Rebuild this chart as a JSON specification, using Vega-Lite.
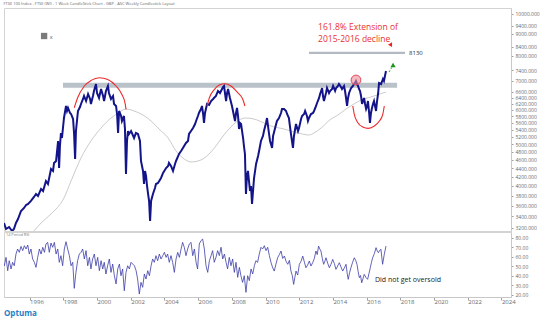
{
  "$schema": "https://vega.github.io/schema/vega-lite/v6.json",
  "padding": {"left": 3, "top": 1, "right": 0, "bottom": 0},
  "background": "white",
  "title": {"text": "FTSE 100 Index - FTSE (WI) - 1 Week CandleStick Chart - GBP - ASC Weekly Candlestick Layout", "anchor": "start", "frame": "bounds", "fontSize": 4, "font": "Open Sans", "fontWeight": "normal", "color": "#666666", "offset": 2},
  "config": {
    "view": {"stroke": "#d4d4d4"},
    "axis": {"labelFont": "Open Sans", "labelColor": "#6a6a6a", "domainColor": "#c8c8c8", "tickColor": "#a0a0a0", "grid": false, "title": null}
  },
  "datasets": {
    "price": [
      {"t":1994.48,"v":3282},{"t":1994.60,"v":3179},{"t":1994.78,"v":3213},{"t":1994.96,"v":3145},{"t":1995.07,"v":3179},{"t":1995.19,"v":3282},{"t":1995.31,"v":3353},{"t":1995.49,"v":3499},{"t":1995.67,"v":3556},{"t":1995.79,"v":3613},{"t":1995.91,"v":3632},{"t":1996.08,"v":3691},{"t":1996.26,"v":3771},{"t":1996.38,"v":3831},{"t":1996.50,"v":3791},{"t":1996.68,"v":3935},{"t":1996.80,"v":3893},{"t":1996.97,"v":4106},{"t":1997.09,"v":4040},{"t":1997.27,"v":4377},{"t":1997.39,"v":4331},{"t":1997.45,"v":4520},{"t":1997.57,"v":4568},{"t":1997.69,"v":5082},{"t":1997.75,"v":4400},{"t":1997.80,"v":4948},{"t":1997.86,"v":5303},{"t":1997.92,"v":5163},{"t":1998.04,"v":5744},{"t":1998.16,"v":6124},{"t":1998.22,"v":5963},{"t":1998.28,"v":6059},{"t":1998.40,"v":5899},{"t":1998.46,"v":5868},{"t":1998.58,"v":5713},{"t":1998.64,"v":5275},{"t":1998.70,"v":4617},{"t":1998.75,"v":5359},{"t":1998.87,"v":5963},{"t":1998.99,"v":6091},{"t":1999.05,"v":6190},{"t":1999.17,"v":6357},{"t":1999.23,"v":6459},{"t":1999.35,"v":6289},{"t":1999.47,"v":6529},{"t":1999.59,"v":6357},{"t":1999.64,"v":6190},{"t":1999.76,"v":6459},{"t":1999.82,"v":6634},{"t":1999.94,"v":6886},{"t":2000.00,"v":6564},{"t":2000.12,"v":6391},{"t":2000.24,"v":6705},{"t":2000.36,"v":6459},{"t":2000.42,"v":6289},{"t":2000.53,"v":6634},{"t":2000.65,"v":6813},{"t":2000.71,"v":6564},{"t":2000.83,"v":6357},{"t":2000.95,"v":6459},{"t":2001.01,"v":6190},{"t":2001.13,"v":6124},{"t":2001.19,"v":5868},{"t":2001.25,"v":5303},{"t":2001.31,"v":5963},{"t":2001.43,"v":5806},{"t":2001.48,"v":5653},{"t":2001.60,"v":5806},{"t":2001.66,"v":5417},{"t":2001.72,"v":4262},{"t":2001.78,"v":5082},{"t":2001.84,"v":5359},{"t":2001.90,"v":5275},{"t":2002.02,"v":5359},{"t":2002.20,"v":5163},{"t":2002.31,"v":5303},{"t":2002.43,"v":5275},{"t":2002.55,"v":5082},{"t":2002.61,"v":4568},{"t":2002.73,"v":4331},{"t":2002.79,"v":4040},{"t":2002.85,"v":4331},{"t":2002.91,"v":4216},{"t":2002.97,"v":3998},{"t":2003.03,"v":3831},{"t":2003.09,"v":3691},{"t":2003.15,"v":3317},{"t":2003.21,"v":3691},{"t":2003.32,"v":3831},{"t":2003.44,"v":3956},{"t":2003.50,"v":4040},{"t":2003.62,"v":4062},{"t":2003.80,"v":4172},{"t":2003.92,"v":4285},{"t":2004.10,"v":4400},{"t":2004.22,"v":4448},{"t":2004.27,"v":4520},{"t":2004.39,"v":4448},{"t":2004.51,"v":4331},{"t":2004.63,"v":4496},{"t":2004.69,"v":4568},{"t":2004.87,"v":4742},{"t":2004.99,"v":4818},{"t":2005.10,"v":4896},{"t":2005.28,"v":5028},{"t":2005.40,"v":5082},{"t":2005.46,"v":5275},{"t":2005.58,"v":5359},{"t":2005.70,"v":5446},{"t":2005.82,"v":5563},{"t":2005.88,"v":5653},{"t":2005.99,"v":5806},{"t":2006.05,"v":5899},{"t":2006.17,"v":6027},{"t":2006.23,"v":6124},{"t":2006.29,"v":5899},{"t":2006.35,"v":5593},{"t":2006.41,"v":5899},{"t":2006.53,"v":6190},{"t":2006.65,"v":6157},{"t":2006.77,"v":6289},{"t":2006.89,"v":6357},{"t":2006.94,"v":6391},{"t":2007.06,"v":6459},{"t":2007.18,"v":6634},{"t":2007.30,"v":6564},{"t":2007.42,"v":6705},{"t":2007.48,"v":6777},{"t":2007.54,"v":6813},{"t":2007.60,"v":6529},{"t":2007.66,"v":6289},{"t":2007.72,"v":6564},{"t":2007.78,"v":6705},{"t":2007.84,"v":6529},{"t":2007.89,"v":6391},{"t":2008.01,"v":6124},{"t":2008.07,"v":5963},{"t":2008.13,"v":5806},{"t":2008.19,"v":5653},{"t":2008.25,"v":5899},{"t":2008.31,"v":6059},{"t":2008.37,"v":5806},{"t":2008.43,"v":5417},{"t":2008.49,"v":5593},{"t":2008.55,"v":5563},{"t":2008.61,"v":5359},{"t":2008.67,"v":5163},{"t":2008.72,"v":4948},{"t":2008.78,"v":4742},{"t":2008.84,"v":3831},{"t":2008.90,"v":4216},{"t":2008.96,"v":4331},{"t":2009.02,"v":4106},{"t":2009.08,"v":3893},{"t":2009.14,"v":3998},{"t":2009.20,"v":3632},{"t":2009.26,"v":3893},{"t":2009.32,"v":4172},{"t":2009.44,"v":4496},{"t":2009.56,"v":4692},{"t":2009.62,"v":4818},{"t":2009.73,"v":5082},{"t":2009.85,"v":5219},{"t":2009.91,"v":5359},{"t":2010.03,"v":5593},{"t":2010.09,"v":5744},{"t":2010.15,"v":5504},{"t":2010.21,"v":5275},{"t":2010.27,"v":5082},{"t":2010.39,"v":4896},{"t":2010.45,"v":5219},{"t":2010.57,"v":5446},{"t":2010.68,"v":5653},{"t":2010.80,"v":5744},{"t":2010.92,"v":5899},{"t":2010.98,"v":6027},{"t":2011.10,"v":6027},{"t":2011.22,"v":5963},{"t":2011.28,"v":5868},{"t":2011.39,"v":5744},{"t":2011.45,"v":5504},{"t":2011.51,"v":5275},{"t":2011.57,"v":5082},{"t":2011.63,"v":4896},{"t":2011.69,"v":5219},{"t":2011.81,"v":5563},{"t":2011.93,"v":5359},{"t":2011.99,"v":5446},{"t":2012.11,"v":5713},{"t":2012.17,"v":5806},{"t":2012.29,"v":5868},{"t":2012.35,"v":5963},{"t":2012.46,"v":5806},{"t":2012.52,"v":5653},{"t":2012.58,"v":5744},{"t":2012.70,"v":5868},{"t":2012.82,"v":5899},{"t":2012.88,"v":5963},{"t":2013.00,"v":6124},{"t":2013.06,"v":6223},{"t":2013.18,"v":6391},{"t":2013.24,"v":6529},{"t":2013.30,"v":6634},{"t":2013.36,"v":6741},{"t":2013.41,"v":6459},{"t":2013.47,"v":6289},{"t":2013.59,"v":6564},{"t":2013.65,"v":6741},{"t":2013.77,"v":6564},{"t":2013.83,"v":6634},{"t":2013.95,"v":6705},{"t":2014.01,"v":6813},{"t":2014.13,"v":6634},{"t":2014.19,"v":6741},{"t":2014.30,"v":6813},{"t":2014.36,"v":6886},{"t":2014.48,"v":6777},{"t":2014.54,"v":6705},{"t":2014.66,"v":6813},{"t":2014.72,"v":6634},{"t":2014.78,"v":6391},{"t":2014.84,"v":6124},{"t":2014.90,"v":6391},{"t":2014.96,"v":6564},{"t":2015.08,"v":6741},{"t":2015.19,"v":6813},{"t":2015.25,"v":6886},{"t":2015.31,"v":6923},{"t":2015.37,"v":6997},{"t":2015.43,"v":6886},{"t":2015.49,"v":6813},{"t":2015.55,"v":6705},{"t":2015.61,"v":6634},{"t":2015.67,"v":6459},{"t":2015.73,"v":6190},{"t":2015.79,"v":6289},{"t":2015.85,"v":6391},{"t":2015.91,"v":6190},{"t":2015.97,"v":6027},{"t":2016.03,"v":6124},{"t":2016.08,"v":6289},{"t":2016.14,"v":5963},{"t":2016.20,"v":5593},{"t":2016.26,"v":5899},{"t":2016.32,"v":6059},{"t":2016.38,"v":6190},{"t":2016.44,"v":6289},{"t":2016.50,"v":6124},{"t":2016.56,"v":5963},{"t":2016.62,"v":6289},{"t":2016.68,"v":6529},{"t":2016.74,"v":6923},{"t":2016.86,"v":6886},{"t":2016.97,"v":7072},{"t":2017.03,"v":6997},{"t":2017.15,"v":7380}
    ],
    "ma": [
      {"t":1996.26,"v":3145},{"t":1996.68,"v":3282},{"t":1997.27,"v":3444},{"t":1998.04,"v":3751},{"t":1998.46,"v":4106},{"t":1999.05,"v":4642},{"t":1999.64,"v":5082},{"t":2000.24,"v":5446},{"t":2000.83,"v":5744},{"t":2001.25,"v":5899},{"t":2001.72,"v":6027},{"t":2002.20,"v":5963},{"t":2002.73,"v":5837},{"t":2003.21,"v":5653},{"t":2003.68,"v":5417},{"t":2004.22,"v":5163},{"t":2004.69,"v":4818},{"t":2005.10,"v":4642},{"t":2005.58,"v":4544},{"t":2006.17,"v":4592},{"t":2006.65,"v":4742},{"t":2007.06,"v":4948},{"t":2007.48,"v":5219},{"t":2007.95,"v":5475},{"t":2008.43,"v":5683},{"t":2008.84,"v":5744},{"t":2009.32,"v":5713},{"t":2009.91,"v":5593},{"t":2010.33,"v":5504},{"t":2011.10,"v":5417},{"t":2011.93,"v":5303},{"t":2012.58,"v":5247},{"t":2012.88,"v":5303},{"t":2013.30,"v":5446},{"t":2013.89,"v":5713},{"t":2014.30,"v":5837},{"t":2014.78,"v":6027},{"t":2015.25,"v":6190},{"t":2015.67,"v":6323},{"t":2016.26,"v":6425},{"t":2017.15,"v":6599}
    ],
    "arcs": [
      {"arc":"a","t":1998.65,"v":6068},{"arc":"a","t":1998.85,"v":6400},{"arc":"a","t":1999.25,"v":6813},{"arc":"a","t":1999.65,"v":7019},{"arc":"a","t":2000.14,"v":7120},{"arc":"a","t":2000.64,"v":7057},{"arc":"a","t":2001.13,"v":6813},{"arc":"a","t":2001.47,"v":6518},{"arc":"a","t":2001.68,"v":6180},{"arc":"a","t":2001.72,"v":6011},
      {"arc":"b","t":2006.53,"v":6124},{"arc":"b","t":2006.67,"v":6400},{"arc":"b","t":2006.96,"v":6685},{"arc":"b","t":2007.26,"v":6849},{"arc":"b","t":2007.60,"v":6897},{"arc":"b","t":2007.95,"v":6813},{"arc":"b","t":2008.35,"v":6574},{"arc":"b","t":2008.65,"v":6347},{"arc":"b","t":2008.78,"v":6124},
      {"arc":"c","t":2015.18,"v":6124},{"arc":"c","t":2015.27,"v":5859},{"arc":"c","t":2015.47,"v":5608},{"arc":"c","t":2015.77,"v":5475},{"arc":"c","t":2016.10,"v":5435},{"arc":"c","t":2016.46,"v":5504},{"arc":"c","t":2016.76,"v":5653},{"arc":"c","t":2016.96,"v":5859},{"arc":"c","t":2017.05,"v":6124}
    ],
    "rsi": [
      {"t":1994.40,"v":53.9},{"t":1994.50,"v":50.3},{"t":1994.60,"v":59.1},{"t":1994.70,"v":45.1},{"t":1994.79,"v":55.6},{"t":1994.90,"v":46.9},{"t":1994.99,"v":53.9},{"t":1995.09,"v":50.3},{"t":1995.19,"v":62.6},{"t":1995.29,"v":67.9},{"t":1995.39,"v":64.4},{"t":1995.49,"v":70.7},{"t":1995.59,"v":66.2},{"t":1995.69,"v":71.4},{"t":1995.79,"v":67.9},{"t":1995.89,"v":72.1},{"t":1995.98,"v":62.6},{"t":1996.08,"v":67.9},{"t":1996.18,"v":57.4},{"t":1996.28,"v":53.9},{"t":1996.38,"v":48.6},{"t":1996.48,"v":59.1},{"t":1996.58,"v":67.9},{"t":1996.68,"v":62.6},{"t":1996.78,"v":69.7},{"t":1996.88,"v":64.4},{"t":1996.97,"v":73.2},{"t":1997.07,"v":74.9},{"t":1997.17,"v":64.4},{"t":1997.27,"v":74.2},{"t":1997.37,"v":69.7},{"t":1997.47,"v":74.9},{"t":1997.57,"v":62.6},{"t":1997.67,"v":67.9},{"t":1997.76,"v":53.9},{"t":1997.86,"v":60.9},{"t":1997.96,"v":50.3},{"t":1998.06,"v":67.9},{"t":1998.16,"v":75.6},{"t":1998.26,"v":67.9},{"t":1998.36,"v":60.9},{"t":1998.46,"v":50.3},{"t":1998.56,"v":53.9},{"t":1998.65,"v":26.5},{"t":1998.75,"v":43.3},{"t":1998.85,"v":55.6},{"t":1998.95,"v":62.6},{"t":1999.05,"v":64.4},{"t":1999.15,"v":67.9},{"t":1999.25,"v":57.4},{"t":1999.35,"v":66.2},{"t":1999.45,"v":50.3},{"t":1999.55,"v":59.1},{"t":1999.64,"v":46.9},{"t":1999.74,"v":57.4},{"t":1999.84,"v":62.6},{"t":1999.94,"v":50.3},{"t":2000.04,"v":59.1},{"t":2000.14,"v":45.1},{"t":2000.24,"v":55.6},{"t":2000.34,"v":46.9},{"t":2000.43,"v":53.9},{"t":2000.53,"v":41.6},{"t":2000.63,"v":50.3},{"t":2000.73,"v":57.4},{"t":2000.83,"v":43.3},{"t":2000.93,"v":52.1},{"t":2001.03,"v":39.8},{"t":2001.13,"v":31.1},{"t":2001.23,"v":46.9},{"t":2001.33,"v":52.1},{"t":2001.42,"v":39.8},{"t":2001.52,"v":46.9},{"t":2001.62,"v":24.0},{"t":2001.72,"v":43.3},{"t":2001.82,"v":50.3},{"t":2001.92,"v":46.9},{"t":2002.02,"v":53.9},{"t":2002.12,"v":52.1},{"t":2002.22,"v":50.3},{"t":2002.32,"v":45.1},{"t":2002.41,"v":36.3},{"t":2002.51,"v":20.5},{"t":2002.61,"v":32.8},{"t":2002.71,"v":27.6},{"t":2002.81,"v":41.6},{"t":2002.91,"v":36.3},{"t":2003.01,"v":45.1},{"t":2003.11,"v":39.8},{"t":2003.21,"v":50.3},{"t":2003.30,"v":57.4},{"t":2003.40,"v":53.9},{"t":2003.50,"v":60.9},{"t":2003.60,"v":55.6},{"t":2003.70,"v":62.6},{"t":2003.80,"v":57.4},{"t":2003.90,"v":60.9},{"t":2004.00,"v":64.4},{"t":2004.10,"v":59.1},{"t":2004.19,"v":62.6},{"t":2004.29,"v":53.9},{"t":2004.39,"v":60.9},{"t":2004.49,"v":53.9},{"t":2004.59,"v":43.3},{"t":2004.69,"v":57.4},{"t":2004.79,"v":64.4},{"t":2004.89,"v":59.1},{"t":2004.99,"v":67.9},{"t":2005.08,"v":74.9},{"t":2005.18,"v":69.7},{"t":2005.28,"v":60.9},{"t":2005.38,"v":67.9},{"t":2005.48,"v":73.2},{"t":2005.58,"v":74.9},{"t":2005.68,"v":60.9},{"t":2005.78,"v":67.9},{"t":2005.88,"v":53.9},{"t":2005.97,"v":46.9},{"t":2006.07,"v":73.2},{"t":2006.17,"v":76.7},{"t":2006.27,"v":78.4},{"t":2006.37,"v":67.9},{"t":2006.47,"v":50.3},{"t":2006.57,"v":43.3},{"t":2006.67,"v":55.6},{"t":2006.77,"v":60.9},{"t":2006.86,"v":66.2},{"t":2006.96,"v":53.9},{"t":2007.06,"v":59.1},{"t":2007.16,"v":66.2},{"t":2007.26,"v":60.9},{"t":2007.36,"v":69.7},{"t":2007.46,"v":57.4},{"t":2007.56,"v":62.6},{"t":2007.66,"v":53.9},{"t":2007.75,"v":46.9},{"t":2007.85,"v":59.1},{"t":2007.95,"v":50.3},{"t":2008.05,"v":57.4},{"t":2008.15,"v":43.3},{"t":2008.25,"v":53.9},{"t":2008.35,"v":38.1},{"t":2008.45,"v":48.6},{"t":2008.54,"v":39.8},{"t":2008.64,"v":32.8},{"t":2008.74,"v":39.8},{"t":2008.84,"v":22.3},{"t":2008.94,"v":39.8},{"t":2009.04,"v":34.6},{"t":2009.14,"v":46.9},{"t":2009.24,"v":41.6},{"t":2009.34,"v":50.3},{"t":2009.43,"v":55.6},{"t":2009.53,"v":53.9},{"t":2009.63,"v":62.6},{"t":2009.73,"v":69.7},{"t":2009.83,"v":67.9},{"t":2009.93,"v":71.4},{"t":2010.03,"v":66.2},{"t":2010.13,"v":69.7},{"t":2010.23,"v":60.9},{"t":2010.33,"v":53.5},{"t":2010.43,"v":48.0},{"t":2010.52,"v":44.7},{"t":2010.62,"v":52.0},{"t":2010.72,"v":58.7},{"t":2010.82,"v":62.0},{"t":2010.92,"v":65.8},{"t":2011.02,"v":58.0},{"t":2011.12,"v":60.5},{"t":2011.22,"v":55.0},{"t":2011.32,"v":51.8},{"t":2011.42,"v":56.0},{"t":2011.51,"v":44.7},{"t":2011.59,"v":40.0},{"t":2011.67,"v":30.7},{"t":2011.74,"v":38.0},{"t":2011.81,"v":44.7},{"t":2011.91,"v":40.5},{"t":2012.01,"v":51.8},{"t":2012.11,"v":55.0},{"t":2012.21,"v":60.5},{"t":2012.31,"v":54.0},{"t":2012.40,"v":48.2},{"t":2012.50,"v":51.0},{"t":2012.60,"v":55.3},{"t":2012.70,"v":50.0},{"t":2012.80,"v":53.5},{"t":2012.90,"v":58.0},{"t":2012.99,"v":65.8},{"t":2013.07,"v":62.0},{"t":2013.15,"v":71.0},{"t":2013.22,"v":68.0},{"t":2013.29,"v":65.8},{"t":2013.37,"v":58.0},{"t":2013.45,"v":51.8},{"t":2013.52,"v":55.0},{"t":2013.59,"v":58.7},{"t":2013.69,"v":53.0},{"t":2013.79,"v":48.2},{"t":2013.89,"v":52.0},{"t":2013.99,"v":57.0},{"t":2014.09,"v":52.5},{"t":2014.18,"v":46.5},{"t":2014.28,"v":50.0},{"t":2014.38,"v":53.5},{"t":2014.48,"v":49.0},{"t":2014.58,"v":44.7},{"t":2014.68,"v":48.0},{"t":2014.78,"v":51.8},{"t":2014.85,"v":42.0},{"t":2014.91,"v":36.0},{"t":2014.99,"v":43.0},{"t":2015.07,"v":48.2},{"t":2015.17,"v":54.0},{"t":2015.27,"v":58.7},{"t":2015.35,"v":56.0},{"t":2015.43,"v":51.8},{"t":2015.50,"v":44.0},{"t":2015.57,"v":37.7},{"t":2015.64,"v":40.0},{"t":2015.71,"v":32.4},{"t":2015.79,"v":37.0},{"t":2015.86,"v":41.2},{"t":2015.96,"v":38.0},{"t":2016.06,"v":36.0},{"t":2016.14,"v":42.0},{"t":2016.22,"v":48.2},{"t":2016.29,"v":54.0},{"t":2016.36,"v":58.7},{"t":2016.46,"v":63.0},{"t":2016.56,"v":69.3},{"t":2016.63,"v":66.0},{"t":2016.70,"v":64.0},{"t":2016.78,"v":66.5},{"t":2016.85,"v":67.6},{"t":2016.95,"v":51.8},{"t":2017.05,"v":62.3},{"t":2017.15,"v":71.0}
    ]
  },
  "vconcat": [
    {
      "width": 507,
      "height": 223,
      "encoding": {
        "x": {"field": "t", "type": "quantitative", "scale": {"domain": [1994.48, 2024.57], "nice": false, "zero": false}, "axis": null},
        "y": {"field": "v", "type": "quantitative", "scale": {"type": "log", "domain": [3145, 10325], "nice": false},
          "axis": {"orient": "right", "values": [3200, 3400, 3600, 3800, 4000, 4200, 4400, 4600, 4800, 5000, 5200, 5400, 5600, 5800, 6000, 6200, 6400, 6600, 7000, 7400, 8000, 8400, 9000, 9400, 10000], "format": ".3f", "labelFontSize": 5, "labelOverlap": false, "tickSize": 2, "labelPadding": 2, "title": null}}
      },
      "layer": [
        {"data": {"values": [{"t": 1997.98, "t2": 2017.81, "v": 6752, "v2": 6934}]}, "mark": {"type": "rect", "color": "#b9c1c9"}, "encoding": {"x2": {"field": "t2"}, "y2": {"field": "v2"}}},
        {"data": {"values": [{"t": 2012.58, "t2": 2018.28, "v": 8130}]}, "mark": {"type": "rule", "color": "#b3bac2", "strokeWidth": 2.2}, "encoding": {"x2": {"field": "t2"}}},
        {"data": {"name": "ma"}, "mark": {"type": "line", "color": "#b4b4b4", "strokeWidth": 0.7, "clip": true, "interpolate": "monotone"}, "encoding": {}},
        {"data": {"name": "price"}, "mark": {"type": "line", "color": "#14148a", "strokeWidth": 2, "clip": true}, "encoding": {}},
        {"data": {"name": "arcs"}, "mark": {"type": "line", "color": "#ee2a2a", "strokeWidth": 1.1, "interpolate": "monotone"}, "encoding": {"detail": {"field": "arc"}}},
        {"data": {"values": [{"t": 2015.37, "v": 7034}]}, "mark": {"type": "point", "shape": "circle", "size": 95, "filled": true, "fill": "#f08a96", "fillOpacity": 0.6, "stroke": "#e04a5a", "strokeWidth": 1}, "encoding": {}},
        {"data": {"values": [{"t": 2017.33, "v": 7341}, {"t": 2017.52, "v": 7540}]}, "mark": {"type": "line", "color": "#33aa33", "strokeWidth": 1, "strokeDash": [2, 1.5]}, "encoding": {}},
        {"data": {"values": [{"t": 2017.57, "v": 7620}]}, "mark": {"type": "point", "shape": "triangle-up", "size": 28, "filled": true, "color": "#1d961d", "opacity": 1}, "encoding": {}},
        {"data": {"values": [{"t": 2017.45, "v": 8463}]}, "mark": {"type": "point", "shape": "triangle-down", "size": 22, "filled": true, "color": "#e8251f", "opacity": 1, "angle": -30}, "encoding": {}},
        {"data": {"values": [{"t": 1996.86, "v": 8893}]}, "mark": {"type": "point", "shape": "square", "size": 40, "filled": true, "color": "#7a7a7a", "opacity": 1}, "encoding": {}},
        {"data": {"values": [{"t": 1997.2, "v": 8848, "label": "x"}]}, "mark": {"type": "text", "align": "left", "baseline": "middle", "fontSize": 5.5, "font": "Open Sans", "color": "#555555"}, "encoding": {"text": {"field": "label"}}},
        {"data": {"values": [{"t": 2018.52, "v": 8130, "label": "8130"}]}, "mark": {"type": "text", "align": "left", "baseline": "middle", "fontSize": 6, "font": "Open Sans", "color": "#333333"}, "encoding": {"text": {"field": "label"}}},
        {"data": {"values": [{"t": 2013.12, "v": 9345, "label": "161.8% Extension of"}, {"t": 2013.12, "v": 8752, "label": "2015-2016 decline"}]}, "mark": {"type": "text", "align": "left", "baseline": "middle", "fontSize": 8.5, "font": "Open Sans", "color": "#e8312f"}, "encoding": {"text": {"field": "label"}}}
      ]
    },
    {
      "width": 507,
      "height": 65,
      "title": {"text": "Optuma", "orient": "bottom", "anchor": "start", "frame": "bounds", "fontSize": 8, "font": "Open Sans", "fontWeight": "bold", "color": "#1f7fc6", "offset": 6},
      "encoding": {
        "x": {"field": "t", "type": "quantitative", "scale": {"domain": [1994.48, 2024.57], "nice": false, "zero": false},
          "axis": {"orient": "bottom", "values": [1996, 1998, 2000, 2002, 2004, 2006, 2008, 2010, 2012, 2014, 2016, 2018, 2020, 2022, 2024], "format": "d", "labelAlign": "left", "labelFontSize": 6, "labelPadding": -2, "tickSize": 3, "labelOverlap": false, "labelFlush": false, "labelBound": false, "title": null}},
        "y": {"field": "v", "type": "quantitative", "scale": {"domain": [17.4, 85.8], "nice": false, "zero": false},
          "axis": {"orient": "right", "values": [20, 30, 40, 50, 60, 70, 80], "format": ".2f", "labelFontSize": 5, "tickSize": 2, "labelPadding": 2, "title": null}}
      },
      "layer": [
        {"mark": {"type": "rule", "color": "#8a8ae0", "strokeWidth": 1}, "encoding": {"x": {"value": 0}, "x2": {"value": 507}, "y": {"datum": 70}}},
        {"mark": {"type": "rule", "color": "#86cc86", "strokeWidth": 1}, "encoding": {"x": {"value": 0}, "x2": {"value": 507}, "y": {"datum": 30}}},
        {"data": {"name": "rsi"}, "mark": {"type": "line", "color": "#3c3ca8", "strokeWidth": 0.8, "clip": true}, "encoding": {}},
        {"data": {"values": [{"t": 1994.6, "v": 82.5, "label": "14 Period RSI"}]}, "mark": {"type": "text", "align": "left", "baseline": "middle", "fontSize": 3.8, "font": "Open Sans", "color": "#777777"}, "encoding": {"text": {"field": "label"}}},
        {"data": {"values": [{"t": 2016.5, "v": 35.6, "label": "Did not get oversold"}]}, "mark": {"type": "text", "align": "left", "baseline": "middle", "fontSize": 7, "font": "Open Sans", "color": "#222222"}, "encoding": {"text": {"field": "label"}}}
      ]
    }
  ],
  "spacing": -3
}
